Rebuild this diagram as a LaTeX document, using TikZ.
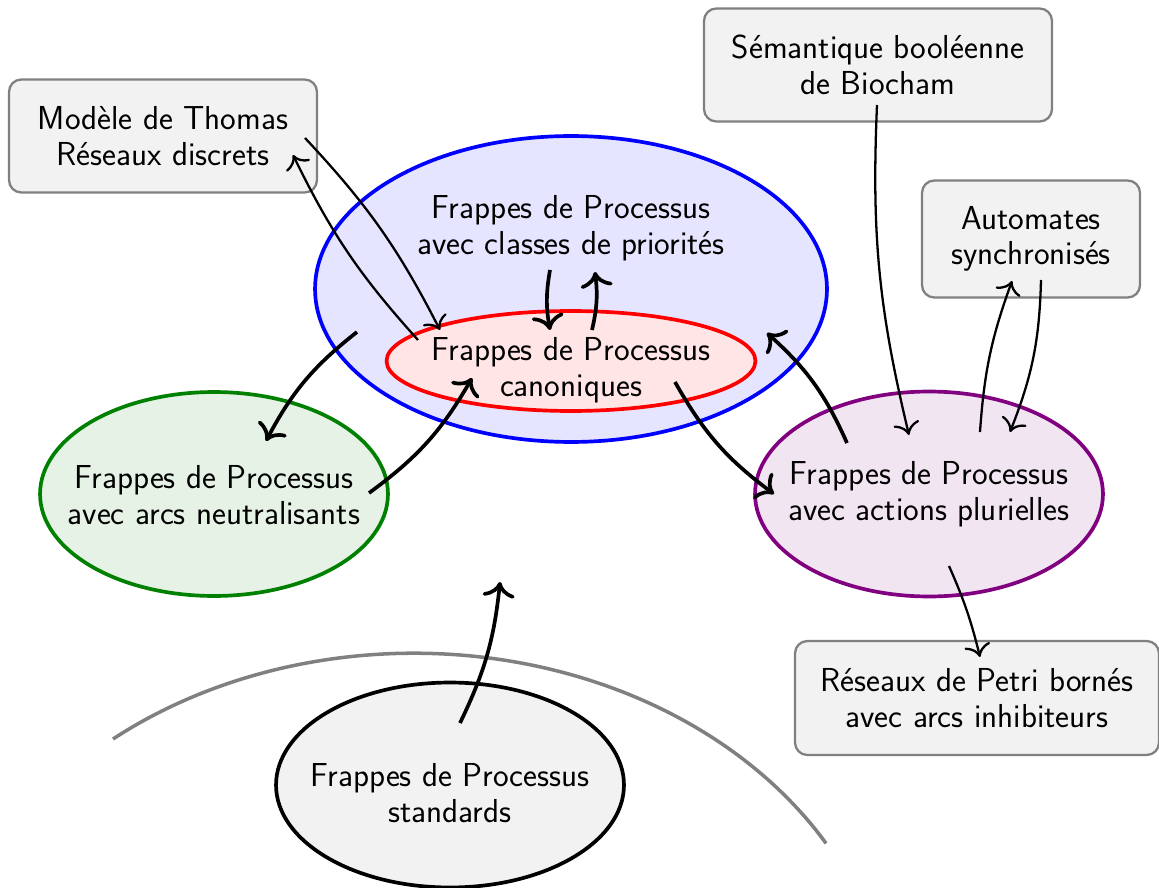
\documentclass[tikz,border=0pt]{standalone}
\usetikzlibrary{shapes.geometric,arrows.meta}
\definecolor{purp}{RGB}{128,0,128}
\definecolor{darkgreen}{RGB}{0,128,0}
\begin{document}
\begin{tikzpicture}[x=0.02cm,y=-0.02cm,
  txt/.style={align=center,font=\sffamily\fontsize{18.9}{20.2}\selectfont,inner sep=0pt},
  ell/.style={ellipse,inner sep=0pt,line width=2.1pt},
  box/.style={draw=gray,fill=gray!10,rounded corners=7pt,line width=1.3pt},
  thin/.style={-{To[scale=1.6]},line width=1.3pt},
  thick/.style={-{To[scale=1.4]},line width=2.1pt}]
\useasboundingbox (0,0) rectangle (1159,888);
% gray arc
\draw[gray,line width=2pt] (113,739) arc[start angle=-129, end angle=-30.4, x radius=478, y radius=385];
% ellipses
\node[ell,draw=blue,fill=blue!10,minimum width=10.24cm,minimum height=6.12cm] (blue) at (571,289) {};
\node[ell,draw=red,fill=red!10,minimum width=7.38cm,minimum height=2cm] (red) at (571,361) {};
\node[ell,draw=darkgreen,fill=darkgreen!10,minimum width=6.96cm,minimum height=4.08cm] (green) at (214,494) {};
\node[ell,draw=purp,fill=purp!10,minimum width=6.96cm,minimum height=4.1cm] (purple) at (929,494) {};
\node[ell,draw=black,fill=gray!10,minimum width=6.96cm,minimum height=4.1cm] (std) at (450,785) {};
% ellipse texts
\node[txt] (tblue) at (571,228) {Frappes de Processus\\avec classes de priorités};
\node[txt] (tred) at (571,370) {Frappes de Processus\\canoniques};
\node[txt] (tgreen) at (214,495) {Frappes de Processus\\avec arcs neutralisants};
\node[txt] (tpurple) at (929,494) {Frappes de Processus\\avec actions plurielles};
\node[txt] (tstd) at (450,793) {Frappes de Processus\\standards};
% boxes
\node[box,minimum width=6.16cm,minimum height=2.26cm] (thomas) at (163,136) {};
\node[txt] at (thomas) {Modèle de Thomas\\Réseaux discrets};
\node[box,minimum width=6.96cm,minimum height=2.26cm] (biocham) at (878,65) {};
\node[txt] at (biocham) {Sémantique booléenne\\de Biocham};
\node[box,minimum width=4.36cm,minimum height=2.34cm] (autom) at (1031,239) {};
\node[txt] at (autom) {Automates\\synchronisés};
\node[box,minimum width=7.28cm,minimum height=2.28cm] (petri) at (977,698) {};
\node[txt] at (petri) {Réseaux de Petri bornés\\avec arcs inhibiteurs};
\coordinate (free) at (500,582);
% thin arrows
\draw[thin] ([shift={(142,2)}]thomas.center) to[bend left=8] ([shift={(-131,-31)}]red.center);
\draw[thin] ([shift={(-153,-21)}]red.center) to[bend left=8] ([shift={(130,19)}]thomas.center);
\draw[thin] ([shift={(-1,40)}]biocham.center) to[bend right=8] ([shift={(-20,-59)}]purple.center);
\draw[thin] ([shift={(51,-62)}]purple.center) to[bend left=8] ([shift={(-19,42)}]autom.center);
\draw[thin] ([shift={(10,41)}]autom.center) to[bend left=10] ([shift={(81,-62)}]purple.center);
\draw[thin] ([shift={(20,72)}]purple.center) to[bend left=5] ([shift={(3,-41)}]petri.center);
% thick arrows
\draw[thick] ([shift={(-21,42)}]tblue.center) to[bend right=10] ([shift={(-21,-31)}]red.center);
\draw[thick] ([shift={(21,-31)}]red.center) to[bend right=10] ([shift={(24,44)}]tblue.center);
\draw[thick] ([shift={(-214,43)}]blue.center) to[bend right=12] ([shift={(52,-53)}]green.center);
\draw[thick] ([shift={(155,-1)}]green.center) to[bend right=12] ([shift={(-99,17)}]red.center);
\draw[thick] ([shift={(104,21)}]red.center) to[bend right=12] ([shift={(-155,0)}]purple.center);
\draw[thick] ([shift={(-82,-51)}]purple.center) to[bend right=12] ([shift={(196,44)}]blue.center);
\draw[thick] ([shift={(10,-62)}]std.center) to[bend right=10] (free);
\end{tikzpicture}
\end{document}
